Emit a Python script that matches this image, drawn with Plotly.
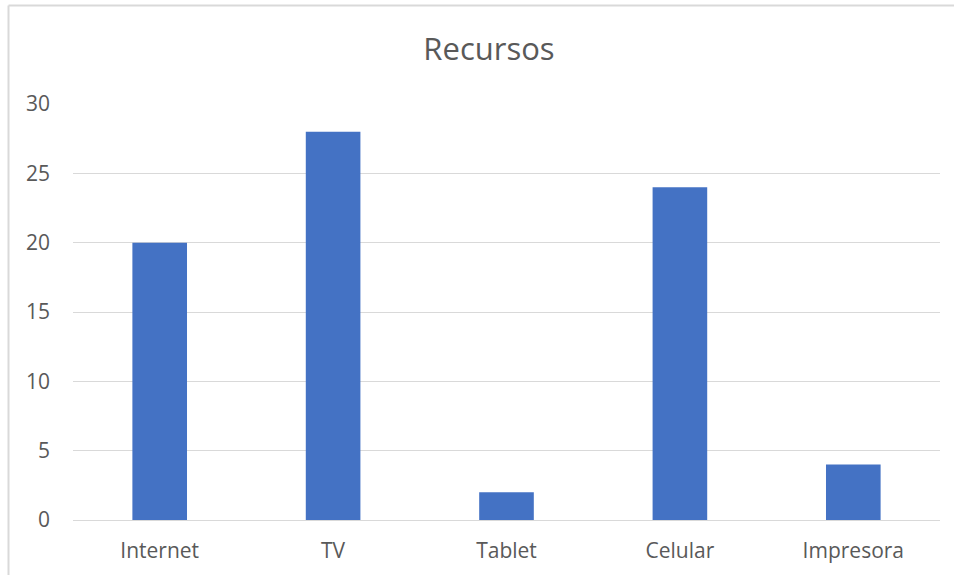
import plotly.graph_objects as go

categories = ["Internet", "TV", "Tablet", "Celular", "Impresora"]
values = [20, 28, 2, 24, 4]
y_ticks = [0, 5, 10, 15, 20, 25, 30]

W, H = 954, 575
L, R, T, B = 73, 14, 104, 55
pw, ph = W - L - R, H - T - B

def px_x(x):
    return (x - L) / pw

def px_y(y):
    return (H - B - y) / ph

fig = go.Figure(go.Bar(x=categories, y=values, marker_color="#4472C4",
                       marker_line_width=0))

fig.update_layout(
    width=W, height=H,
    margin=dict(l=L, r=R, t=T, b=B, autoexpand=False),
    paper_bgcolor="white", plot_bgcolor="white",
    bargap=0.685,
    showlegend=False,
    font=dict(family="Open Sans", color="#595959"),
    title=dict(text="Recursos", x=(489 / W), xanchor="center", xref="container",
               y=1 - 49 / H, yanchor="middle", yref="container",
               font=dict(size=31, color="#595959", family="Open Sans")),
    xaxis=dict(showgrid=False, showline=True, linecolor="#D9D9D9", linewidth=1,
               tickfont=dict(size=21, color="#595959"), ticks="",
               ticklabelstandoff=12, automargin=False),
    yaxis=dict(range=[0, 30], tickvals=y_ticks, showgrid=True, gridcolor="#D9D9D9",
               gridwidth=1, zeroline=False, showline=False,
               tickfont=dict(size=21, color="#595959"), ticks="",
               ticklabelstandoff=22, automargin=False),
    shapes=[
        dict(type="line", xref="paper", yref="paper",
             x0=px_x(8.5), x1=px_x(960), y0=px_y(5.5), y1=px_y(5.5),
             line=dict(color="#D9D9D9", width=2)),
        dict(type="line", xref="paper", yref="paper",
             x0=px_x(8.5), x1=px_x(8.5), y0=px_y(5.5), y1=px_y(580),
             line=dict(color="#D9D9D9", width=2)),
    ],
)

fig.write_html("out.html", config={"displayModeBar": False},
               post_script="document.body.style.margin='0';document.body.style.overflow='hidden';")
